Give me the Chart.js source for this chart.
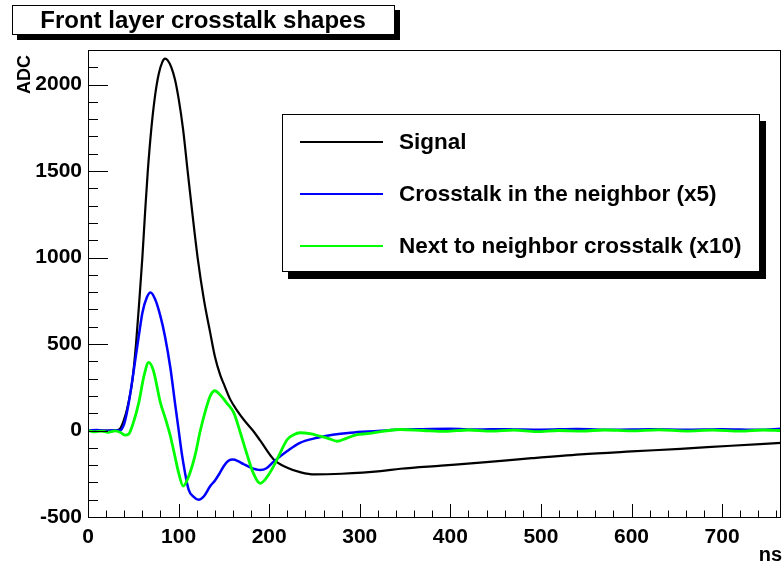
<!DOCTYPE html>
<html lang="en">
<head>
    <meta charset="UTF-8">
    <title>Front layer crosstalk shapes</title>
    <script src="https://cdn.jsdelivr.net/npm/chart.js"></script>
    <style>
        body { margin: 0; background: #fff; }
        #wrap { width: 784px; height: 568px; }
    </style>
</head>
<body>
    <div id="wrap"><canvas id="myChart" width="784" height="568"></canvas></div>
    <script>
        const ctx = document.getElementById('myChart').getContext('2d');
        const FONT = '"Liberation Sans", Arial, Helvetica, sans-serif';

        // Data (ns, ADC)
        const seriesNames = ['Signal', 'Crosstalk in the neighbor (x5)', 'Next to neighbor crosstalk (x10)'];

        const signalT = [0, 30, 35, 41, 45, 49, 53, 56.5, 60, 63, 66, 70, 74, 78, 82, 85, 88, 92, 96, 100, 105, 110, 115, 121, 128, 135, 140, 146, 150, 157, 165, 172, 182, 190, 205, 220, 235, 250, 280, 323, 345, 390, 433, 490, 544, 600, 654, 710, 765];
        const signalV = [0, 0, 8, 83, 170, 290, 500, 740, 1000, 1260, 1500, 1750, 1935, 2060, 2130, 2150, 2140, 2100, 2030, 1920, 1740, 1500, 1265, 1000, 755, 563, 430, 320, 268, 180, 112, 62, 0, -57, -167, -215, -242, -254, -250, -235, -221, -203, -186, -160, -138, -121, -106, -88, -72];

        const neighborT = [0, 10, 20, 30, 35, 40, 45, 50, 56, 60, 65, 69, 74, 80, 85, 91, 96, 100, 104, 111, 117, 122, 128, 135, 140, 145, 150, 155, 160, 165, 172, 180, 190, 197, 205, 220, 234, 253, 270, 290, 320, 345, 370, 400, 430, 460, 500, 540, 580, 620, 660, 700, 740, 765];
        const neighborV = [0, 3, -2, 2, 0, 40, 160, 330, 544, 680, 770, 798, 760, 660, 544, 360, 160, 5, -148, -340, -385, -400, -380, -321, -290, -250, -205, -175, -168, -175, -195, -215, -228, -218, -180, -119, -71, -42, -25, -13, -3, 6, 8, 10, 6, 8, 5, 9, 4, 7, 5, 8, 4, 10];

        const nextT = [0, 8, 15, 22, 30, 36, 41, 45, 50, 56, 62, 67, 72, 80, 86, 91, 96, 100, 105, 110, 118, 124, 130, 135, 140, 146, 153, 161, 168, 175, 182, 190, 196, 205, 213, 220, 227, 234, 245, 256, 265, 275, 285, 296, 308, 325, 345, 370, 395, 420, 445, 470, 495, 520, 545, 570, 600, 630, 660, 690, 720, 745, 765];
        const nextV = [0, -8, -3, -10, -2, -12, -27, -20, 44, 160, 320, 394, 350, 160, 60, -33, -150, -244, -321, -280, -148, 0, 121, 200, 230, 205, 160, 102, -10, -129, -240, -305, -280, -206, -120, -52, -25, -13, -18, -33, -45, -62, -45, -25, -18, -5, 6, 0, -5, 3, -4, 2, -6, 0, -3, 3, -2, 4, -3, 2, -4, 3, 0];

        const xTicks = [0, 100, 200, 300, 400, 500, 600, 700];
        const yTicks = [-500, 0, 500, 1000, 1500, 2000];

        function pts(t, v) { return t.map((x, i) => ({ x: x, y: v[i] })); }

        // ROOT-like frame, inside ticks, title box, legend box and axis titles
        const rootDecor = {
            id: 'rootDecor',
            afterDraw(chart) {
                const c = chart.ctx;
                const a = chart.chartArea;
                const xs = chart.scales.x, ys = chart.scales.y;
                c.save();
                c.strokeStyle = '#000';
                c.lineWidth = 1;
                c.strokeRect(Math.round(a.left) + 0.5, Math.round(a.top) + 0.5, Math.round(a.right - a.left) - 1, Math.round(a.bottom - a.top));
                c.beginPath();
                for (let v = -500; v <= 2200; v += 100) {
                    const y = Math.round(ys.getPixelForValue(v)) + 0.5;
                    const len = (v % 500 === 0) ? 20 : 10;
                    c.moveTo(a.left, y); c.lineTo(a.left + len, y);
                }
                for (let v = 0; v <= 765; v += 20) {
                    const x = Math.round(xs.getPixelForValue(v)) + 0.5;
                    const len = (v % 100 === 0) ? 13 : 6.5;
                    c.moveTo(x, a.bottom); c.lineTo(x, a.bottom - len);
                }
                c.stroke();

                // title box
                c.fillStyle = '#000';
                c.fillRect(17, 10, 383, 30);
                c.fillStyle = '#fff';
                c.fillRect(12, 5, 383, 30);
                c.strokeRect(12.5, 5.5, 382, 29);
                c.fillStyle = '#000';
                c.font = 'bold 24px ' + FONT;
                c.textAlign = 'center';
                c.textBaseline = 'middle';
                c.fillText('Front layer crosstalk shapes', 203, 21);

                // legend box
                c.fillStyle = '#000';
                c.fillRect(288, 121, 478, 158);
                c.fillStyle = '#fff';
                c.fillRect(282, 114, 478, 158);
                c.strokeRect(282.5, 114.5, 477, 157);
                const rows = [142, 194, 246];
                c.font = 'bold 22.5px ' + FONT;
                c.textAlign = 'left';
                chart.data.datasets.forEach((ds, i) => {
                    c.strokeStyle = ds.borderColor;
                    c.lineWidth = 2;
                    c.beginPath();
                    c.moveTo(300, rows[i]); c.lineTo(383, rows[i]);
                    c.stroke();
                    c.fillStyle = '#000';
                    c.fillText(ds.label, 399, rows[i] + 1);
                });

                // axis titles
                c.font = 'bold 20px ' + FONT;
                c.textAlign = 'right';
                c.fillText('ns', 782, 555);
                c.save();
                c.translate(25, 55);
                c.rotate(-Math.PI / 2);
                c.font = 'bold 18px ' + FONT;
                c.textAlign = 'right';
                c.fillText('ADC', 0, 0);
                c.restore();
                c.restore();
            }
        };

        const myChart = new Chart(ctx, {
            type: 'line',
            data: {
                datasets: [{
                    label: seriesNames[0],
                    data: pts(signalT, signalV),
                    borderColor: '#000000',
                    borderWidth: 2.2,
                    order: 3
                }, {
                    label: seriesNames[1],
                    data: pts(neighborT, neighborV),
                    borderColor: '#0000ff',
                    borderWidth: 2.5,
                    order: 2
                }, {
                    label: seriesNames[2],
                    data: pts(nextT, nextV),
                    borderColor: '#00ff00',
                    borderWidth: 2.8,
                    order: 1
                }]
            },
            options: {
                responsive: false,
                animation: false,
                events: [],
                layout: { padding: { top: 50, right: 3, left: 0, bottom: 0 } },
                elements: {
                    point: { radius: 0 },
                    line: { fill: false, cubicInterpolationMode: 'monotone' }
                },
                plugins: {
                    legend: { display: false },
                    title: { display: false },
                    tooltip: { enabled: false }
                },
                scales: {
                    x: {
                        type: 'linear',
                        min: 0,
                        max: 765,
                        afterFit: s => { s.height = 51; },
                        afterBuildTicks: s => { s.ticks = xTicks.map(v => ({ value: v })); },
                        grid: { display: false, drawTicks: false },
                        border: { display: false },
                        ticks: {
                            padding: 8,
                            maxRotation: 0,
                            color: '#000',
                            callback: v => String(v),
                            font: { family: FONT, size: 21, weight: 'bold' }
                        }
                    },
                    y: {
                        type: 'linear',
                        min: -500,
                        max: 2200,
                        afterFit: s => { s.width = 88; },
                        afterBuildTicks: s => { s.ticks = yTicks.map(v => ({ value: v })); },
                        grid: { display: false, drawTicks: false },
                        border: { display: false },
                        ticks: {
                            padding: 6,
                            color: '#000',
                            callback: v => String(v),
                            font: { family: FONT, size: 21, weight: 'bold' }
                        }
                    }
                }
            },
            plugins: [rootDecor]
        });
    </script>
</body>
</html>
